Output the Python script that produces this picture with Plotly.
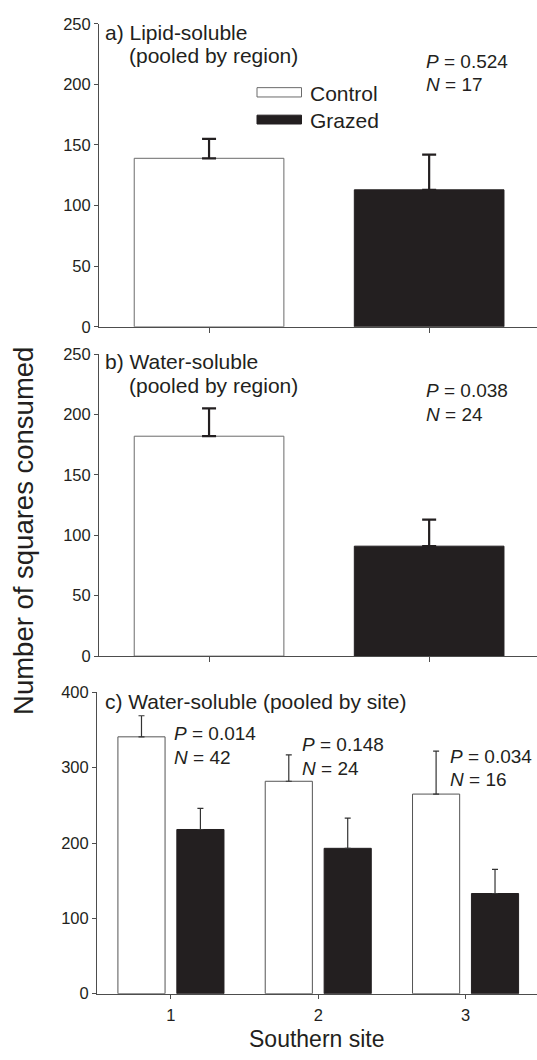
import plotly.graph_objects as go

W, H = 537, 1060

# ---------------- data ----------------
groups = ["Control", "Grazed"]

a_means = [139, 113]
a_errs = [16, 29]
a_stats = ["0.524", "17"]

b_means = [182, 91]
b_errs = [23, 22]
b_stats = ["0.038", "24"]

sites = [1, 2, 3]
c_control = [341, 282, 265]
c_control_err = [28, 35, 57]
c_grazed = [218, 193, 133]
c_grazed_err = [28, 40, 32]
c_P = ["0.014", "0.148", "0.034"]
c_N = ["42", "24", "16"]

# ---------------- style ----------------
FONT = "Liberation Sans, Arial, Helvetica, sans-serif"
TXT = "#231f20"
AX = "#4d4d4d"
DARK = "#231f20"


def X(px):
    return px / W


def Y(py):
    return 1 - py / H


fig = go.Figure()

# panels a and b
for ax_id, means, errs in [("", a_means, a_errs), ("2", b_means, b_errs)]:
    for i, g in enumerate(groups):
        fig.add_trace(go.Bar(
            x=[g], y=[means[i]], name=g, showlegend=False,
            width=0.68,
            marker=dict(color="white" if i == 0 else DARK,
                        line=dict(color="#6b6b6b" if i == 0 else DARK, width=1)),
            error_y=dict(type="data", array=[errs[i]], arrayminus=[0],
                         symmetric=False, color=DARK, thickness=2.2, width=7),
            xaxis="x" + ax_id, yaxis="y" + ax_id,
        ))

# panel c
fig.add_trace(go.Bar(
    x=sites, y=c_control, name="Control", showlegend=False,
    width=0.32, offset=-0.36,
    marker=dict(color="white", line=dict(color="#555555", width=1)),
    error_y=dict(type="data", array=c_control_err, arrayminus=[0, 0, 0],
                 symmetric=False, color="#333333", thickness=1.2, width=3),
    xaxis="x3", yaxis="y3",
))
fig.add_trace(go.Bar(
    x=sites, y=c_grazed, name="Grazed", showlegend=False,
    width=0.32, offset=0.04,
    marker=dict(color=DARK, line=dict(color=DARK, width=1)),
    error_y=dict(type="data", array=c_grazed_err, arrayminus=[0, 0, 0],
                 symmetric=False, color="#333333", thickness=1.2, width=3),
    xaxis="x3", yaxis="y3",
))


def axis_style(ticklen=4, size=16.5):
    return dict(showgrid=False, zeroline=False, showline=True,
                linecolor=AX, linewidth=1, ticks="outside", ticklen=ticklen,
                tickcolor=AX, tickwidth=1,
                tickfont=dict(family=FONT, size=size, color=TXT))


fig.update_layout(
    width=W, height=H,
    margin=dict(l=0, r=0, t=0, b=0),
    paper_bgcolor="white", plot_bgcolor="white",
    barmode="overlay",
    font=dict(family=FONT, color=TXT),
    xaxis=dict(**axis_style(5), domain=[X(99), 1], anchor="y",
               type="category", range=[-0.5, 1.49], showticklabels=False),
    yaxis=dict(**axis_style(), domain=[Y(323.3), Y(15)],
               anchor="x", range=[0, 250], dtick=50),
    xaxis2=dict(**axis_style(5), domain=[X(99), 1], anchor="y2",
                type="category", range=[-0.5, 1.49], showticklabels=False),
    yaxis2=dict(**axis_style(), domain=[Y(658.3), Y(351)],
                anchor="x2", range=[0, 250], dtick=50),
    xaxis3=dict(**axis_style(4, 16.5), domain=[X(97), 1], anchor="y3",
                range=[0.498, 3.485], tickvals=sites,
                ticktext=[str(s) for s in sites], ticklabelstandoff=3),
    yaxis3=dict(**axis_style(), domain=[Y(1001.7), Y(695.2)],
                anchor="x3", range=[0, 400], dtick=100),
)

ann = []


def txt(text, x, y, size, xanchor="left", angle=0):
    ann.append(dict(text=text, x=X(x), y=Y(y), xref="paper", yref="paper",
                    xanchor=xanchor, yanchor="middle", showarrow=False,
                    textangle=angle, borderpad=0,
                    font=dict(family=FONT, size=size, color=TXT)))


# panel a text
txt("a) Lipid-soluble", 104, 24, 21)
txt("(pooled by region)", 128, 47.5, 21)
txt("<i>P</i> = " + a_stats[0], 425, 53.5, 19)
txt("<i>N</i> = " + a_stats[1], 425, 77, 19)

# legend
txt(groups[0], 309, 86, 21)
txt(groups[1], 309, 113, 21)

# panel b text
txt("b) Water-soluble", 104, 359, 21)
txt("(pooled by region)", 128, 383, 21)
txt("<i>P</i> = " + b_stats[0], 425, 388.5, 19)
txt("<i>N</i> = " + b_stats[1], 425, 412.5, 19)

# panel c text
txt("c) Water-soluble (pooled by site)", 104, 704, 21)
c_text_x = [173, 300.5, 448.5]
c_text_y = [737.5, 748.5, 760]
for i in range(3):
    txt("<i>P</i> = " + c_P[i], c_text_x[i], c_text_y[i], 19)
    txt("<i>N</i> = " + c_N[i], c_text_x[i], c_text_y[i] + 24, 19)

# axis titles
txt("Number of squares consumed", 23.5, 531.5, 27.5, xanchor="center", angle=-90)
txt("Southern site", 316.7, 1047.5, 23, xanchor="center")

fig.update_layout(annotations=ann)

# legend swatches
fig.add_shape(type="rect", xref="paper", yref="paper",
              x0=X(257), x1=X(301.5), y0=Y(89.5), y1=Y(80),
              fillcolor="white", line=dict(color="#6b6b6b", width=1))
fig.add_shape(type="rect", xref="paper", yref="paper",
              x0=X(257), x1=X(301.5), y0=Y(117), y1=Y(108),
              fillcolor=DARK, line=dict(color=DARK, width=1))

fig.write_html("out.html")
